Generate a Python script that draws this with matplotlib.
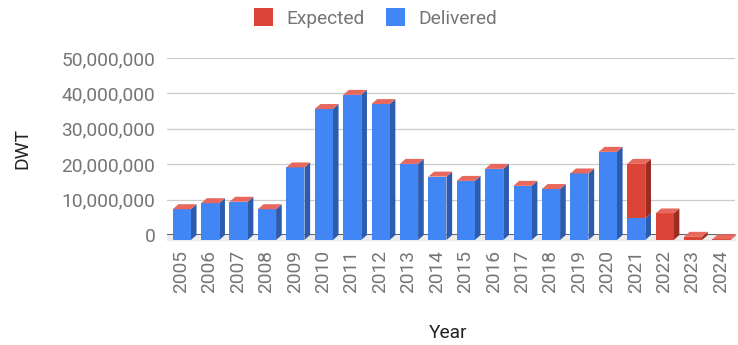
import matplotlib.pyplot as plt
from matplotlib.patches import Polygon, Patch
from matplotlib.ticker import FuncFormatter

plt.rcParams['font.family'] = ['Roboto', 'DejaVu Sans']

years = ['2005', '2006', '2007', '2008', '2009', '2010', '2011', '2012', '2013', '2014',
         '2015', '2016', '2017', '2018', '2019', '2020', '2021', '2022', '2023', '2024']
delivered = [8.7e6, 10.4e6, 10.8e6, 8.7e6, 20.5e6, 37.0e6, 41.0e6, 38.4e6, 21.5e6, 17.9e6,
             16.7e6, 20.1e6, 15.3e6, 14.4e6, 18.8e6, 24.9e6, 6.1e6, 0, 0, 0]
expected = [0, 0, 0, 0, 0, 0, 0, 0, 0, 0,
            0, 0, 0, 0, 0, 0, 15.4e6, 7.5e6, 0.9e6, 0.2e6]

BLUE, BLUE_SIDE = '#4285f4', '#2d5cae'
RED, RED_SIDE, RED_TOP = '#db4437', '#9b2c22', '#e8685d'
TXT = '#757575'

fig = plt.figure(figsize=(7.38, 3.45), dpi=100)
ax = fig.add_axes([0.2263, 0.3188, 0.7697, 0.513])

hw = 0.32       # half width of front face (category units)
dx = 0.2        # depth offset in x
dy = 1.41e6     # depth offset in y (value units)


def face(ax, pts, color, z):
    ax.add_patch(Polygon(pts, closed=True, facecolor=color, edgecolor='none',
                         clip_on=False, zorder=z))


# floor and baseline
ax.axhspan(-dy, 0, color='#ececec', zorder=1, clip_on=False)
ax.axhline(0, color='#555555', lw=1.3, zorder=2)

for i in range(len(years)):
    segs = [(0, delivered[i], BLUE, BLUE_SIDE),
            (delivered[i], delivered[i] + expected[i], RED, RED_SIDE)]
    x0, x1 = i - hw + 0.02, i + hw + 0.02
    for b, t, fc, sc in segs:
        if t <= b:
            continue
        face(ax, [(x1, b - dy), (x1 + dx, b), (x1 + dx, t), (x1, t - dy)], sc, 3)
        face(ax, [(x0, b - dy), (x1, b - dy), (x1, t - dy), (x0, t - dy)], fc, 4)
    top = delivered[i] + expected[i]
    face(ax, [(x0, top - dy), (x1, top - dy), (x1 + dx, top), (x0 + dx, top)], RED_TOP, 4)

ax.set_xlim(-0.5, len(years) - 0.5)
ax.set_ylim(0, 50e6)
ax.set_yticks([0, 10e6, 20e6, 30e6, 40e6, 50e6])
ax.yaxis.set_major_formatter(FuncFormatter(lambda v, p: f'{int(v):,}'))
ax.set_xticks(range(len(years)))
ax.set_xticklabels(years, rotation=90)
ax.tick_params(axis='both', length=0, labelsize=13.8, colors=TXT)
ax.tick_params(axis='y', pad=8.5)
ax.tick_params(axis='x', pad=11)
ax.grid(axis='y', color='#cccccc', lw=0.9, zorder=0)
ax.set_axisbelow(True)
for s in ax.spines.values():
    s.set_visible(False)

fig.text(0.030, 0.571, 'DWT', rotation=90, ha='center', va='center', fontsize=13.8, color='#222222')
fig.text(0.607, 0.035, 'Year', ha='center', va='center', fontsize=13.8, color='#222222')

handles = [Patch(facecolor=RED, label='Expected'), Patch(facecolor=BLUE, label='Delivered')]
fig.legend(handles=handles, loc='center', bbox_to_anchor=(0.509, 0.948), ncol=2, frameon=False,
           fontsize=13.8, labelcolor=TXT, handlelength=1.0, handleheight=1.0,
           handletextpad=0.7, columnspacing=1.1)

fig.savefig('out.png', dpi=100)
